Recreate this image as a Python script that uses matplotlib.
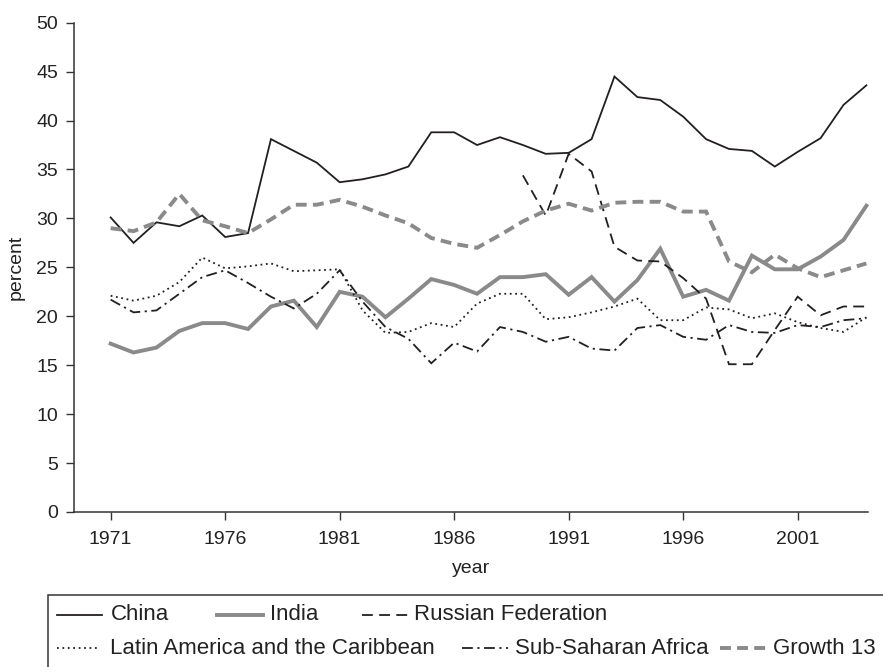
import numpy as np
import matplotlib
matplotlib.use("Agg")
import matplotlib.pyplot as plt
from matplotlib.lines import Line2D
from matplotlib.patches import Rectangle

plt.rcParams['font.family'] = ['Liberation Sans', 'DejaVu Sans']

# Investment share of GDP, 1971-2004
years = list(range(1971, 2005))
china = [30.1, 27.5, 29.6, 29.2, 30.3, 28.1, 28.5, 38.1, 36.9, 35.7, 33.7,
         34.0, 34.5, 35.3, 38.8, 38.8, 37.5, 38.3, 37.5, 36.6, 36.7, 38.1,
         44.5, 42.4, 42.1, 40.4, 38.1, 37.1, 36.9, 35.3, 36.8, 38.2, 41.6, 43.6]
india = [17.2, 16.3, 16.8, 18.5, 19.3, 19.3, 18.7, 21.0, 21.6, 18.9, 22.5,
         22.0, 19.9, 21.8, 23.8, 23.2, 22.3, 24.0, 24.0, 24.3, 22.2, 24.0,
         21.5, 23.7, 26.9, 22.0, 22.7, 21.6, 26.2, 24.8, 24.8, 26.1, 27.8, 31.3]
russia = [np.nan] * 18 + [34.4, 30.3, 36.6, 34.8, 27.1, 25.7, 25.6, 23.9,
                          21.8, 15.1, 15.1, 18.6, 22.0, 20.1, 21.0, 21.0]
latam = [22.1, 21.6, 22.1, 23.5, 26.0, 24.9, 25.1, 25.4, 24.6, 24.7, 24.8,
         20.6, 18.3, 18.4, 19.3, 18.9, 21.3, 22.3, 22.3, 19.7, 19.9, 20.4,
         21.0, 21.8, 19.6, 19.6, 20.9, 20.7, 19.8, 20.3, 19.4, 18.8, 18.4, 19.9]
ssa = [21.7, 20.4, 20.6, 22.3, 24.0, 24.7, 23.4, 22.0, 20.8, 22.3, 24.7,
       21.5, 18.9, 17.7, 15.2, 17.3, 16.4, 18.9, 18.4, 17.4, 17.9, 16.7,
       16.5, 18.8, 19.1, 17.9, 17.6, 19.1, 18.4, 18.3, 19.1, 18.9, 19.6, 19.8]
growth13 = [29.0, 28.7, 29.6, 32.5, 29.8, 29.2, 28.5, 29.9, 31.4, 31.4, 31.9,
            31.2, 30.3, 29.5, 28.0, 27.4, 27.0, 28.3, 29.7, 30.8, 31.5, 30.8,
            31.6, 31.7, 31.7, 30.7, 30.7, 25.6, 24.5, 26.3, 24.9, 24.0, 24.7, 25.4]

BLACK = '#231f20'
GRAY = '#8a8a8a'
TXT = '#222222'

styles = [
    ('China', china, dict(color=BLACK, lw=1.3, ls='-')),
    ('India', india, dict(color=GRAY, lw=2.8, ls='-')),
    ('Russian Federation', russia, dict(color=BLACK, lw=1.3, ls=(0, (6, 3.5)))),
    ('Latin America and the Caribbean', latam, dict(color=BLACK, lw=1.3, ls=(0, (1, 2)))),
    ('Sub-Saharan Africa', ssa, dict(color=BLACK, lw=1.3, ls=(0, (6, 2.5, 1.2, 2.5)))),
    ('Growth 13', growth13, dict(color=GRAY, lw=2.8, ls=(0, (2.8, 1.6)))),
]

W, H = 883, 667
fig = plt.figure(figsize=(W / 100, H / 100), dpi=100)
ax = fig.add_axes([74 / W, 1 - 512 / H, (868 - 74) / W, (512 - 22.7) / H])

for name, vals, kw in styles:
    ax.plot(years, vals, solid_joinstyle='miter', dash_joinstyle='miter',
            clip_on=False, **kw)

ax.set_xlim(1969.4, 2004.07)
ax.set_ylim(0, 50)
ax.set_xticks([1971, 1976, 1981, 1986, 1991, 1996, 2001])
ax.set_yticks(range(0, 51, 5))
for side in ('top', 'right'):
    ax.spines[side].set_visible(False)
for side in ('left', 'bottom'):
    ax.spines[side].set_color('#333333')
    ax.spines[side].set_linewidth(1.1)
ax.tick_params(axis='both', direction='out', length=5.5, width=1.0,
               color='#333333', labelsize=14, labelcolor=TXT)
ax.tick_params(axis='x', pad=8)
ax.tick_params(axis='y', pad=6)
ax.set_xlabel('year', fontsize=14, color=TXT, labelpad=9)
ax.set_ylabel('percent', fontsize=14, color=TXT, labelpad=8)

# legend box, drawn in figure pixels so it can run past the edge
def px(x, y):
    return x / W, 1 - y / H

box = Rectangle(px(48, 700), 900 / W, 105 / H, transform=fig.transFigure,
                facecolor='white', edgecolor='#333333', lw=1.1)
fig.patches.append(box)

# (style index, line start, line end, text start, row y)
entries = [
    (0, 57, 102, 111, 615),
    (1, 217, 263, 270, 615),
    (2, 362, 408, 414, 615),
    (3, 57, 100, 110, 648),
    (4, 462, 508, 515, 648),
    (5, 720, 766, 773, 648),
]
for idx, x0, x1, xt, y in entries:
    name, _, kw = styles[idx]
    (fx0, fy), (fx1, _) = px(x0, y), px(x1, y)
    fig.add_artist(Line2D([fx0, fx1], [fy, fy], transform=fig.transFigure, **kw))
    fig.text(*px(xt, y), name, fontsize=16, color=TXT, va='center', ha='left')

fig.savefig('out.png', dpi=100)
